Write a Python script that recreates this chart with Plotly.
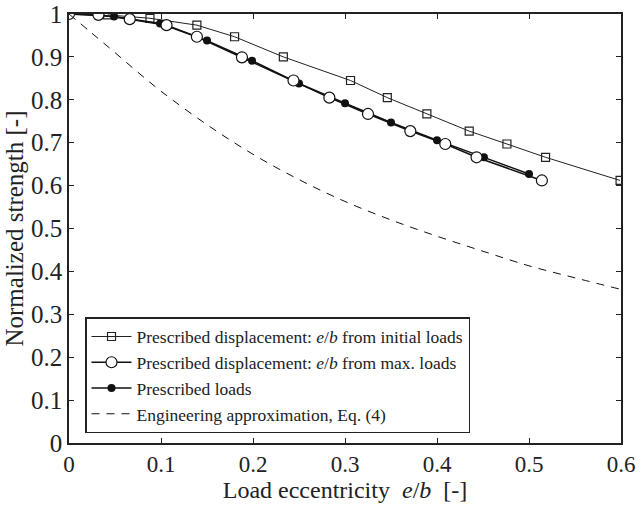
import plotly.graph_objects as go

# Prescribed displacement: e/b from initial loads (squares)
init_x = [0.042, 0.088, 0.139, 0.180, 0.233, 0.306, 0.346, 0.389, 0.435, 0.476, 0.518, 0.599]
init_y = [0.998, 0.990, 0.974, 0.947, 0.900, 0.845, 0.805, 0.767, 0.727, 0.697, 0.666, 0.612]

# Prescribed displacement: e/b from max. loads (open circles)
max_x = [0.0, 0.032, 0.066, 0.106, 0.139, 0.188, 0.244, 0.283, 0.325, 0.371, 0.409, 0.443, 0.514]
max_y = [1.0, 0.998, 0.988, 0.974, 0.947, 0.899, 0.845, 0.805, 0.767, 0.727, 0.697, 0.666, 0.612]

# Prescribed loads (filled circles)
load_x = [0.0, 0.049, 0.099, 0.150, 0.199, 0.250, 0.300, 0.350, 0.400, 0.451, 0.500]
load_y = [1.0, 0.994, 0.978, 0.938, 0.891, 0.838, 0.792, 0.747, 0.706, 0.666, 0.627]

# Engineering approximation, Eq. (4) (dashed)
eng_x = [0.0, 0.025, 0.05, 0.075, 0.1, 0.15, 0.2, 0.25, 0.3, 0.35, 0.4, 0.45, 0.5, 0.55, 0.6]
eng_y = [1.0, 0.955, 0.910, 0.864, 0.820, 0.742, 0.673, 0.614, 0.563, 0.520, 0.482, 0.447, 0.413, 0.385, 0.358]

x_ticks = [0, 0.1, 0.2, 0.3, 0.4, 0.5, 0.6]
y_ticks = [0, 0.1, 0.2, 0.3, 0.4, 0.5, 0.6, 0.7, 0.8, 0.9, 1.0]

FONT = "Liberation Serif"

fig = go.Figure()
fig.add_trace(go.Scatter(
    x=init_x, y=init_y, mode="lines+markers",
    name="Prescribed displacement: <i>e</i>/<i>b</i> from initial loads",
    line=dict(color="#222", width=1),
    marker=dict(symbol="square-open", size=8, color="#222", line=dict(width=1.2)),
    legendrank=1,
))
fig.add_trace(go.Scatter(
    x=load_x, y=load_y, mode="lines+markers",
    name="Prescribed loads",
    line=dict(color="#111", width=1.5),
    marker=dict(symbol="circle", size=8, color="#111"),
    legendrank=3,
))
fig.add_trace(go.Scatter(
    x=max_x, y=max_y, mode="lines+markers",
    name="Prescribed displacement: <i>e</i>/<i>b</i> from max. loads",
    line=dict(color="#111", width=1.5),
    marker=dict(symbol="circle", size=11, color="white", line=dict(color="#111", width=1.2)),
    legendrank=2,
))
fig.add_trace(go.Scatter(
    x=eng_x, y=eng_y, mode="lines", line_shape="spline",
    name="Engineering approximation, Eq. (4)",
    line=dict(color="#111", width=1, dash="8px,7px"),
    legendrank=4,
))

axis_common = dict(
    showgrid=False, zeroline=False, showline=True, linecolor="#222", linewidth=1.5,
    mirror="ticks", ticks="inside", ticklen=5, tickcolor="#222", tickwidth=1,
    automargin=False,
)

fig.update_layout(
    width=641, height=508,
    margin=dict(l=69, r=20, t=14, b=65),
    paper_bgcolor="white", plot_bgcolor="white",
    font=dict(family=FONT, color="#222"),
    showlegend=True,
    legend=dict(
        x=0.029, y=0.023, xanchor="left", yanchor="bottom",
        bgcolor="white", bordercolor="#222", borderwidth=1.5,
        font=dict(family=FONT, size=17.5, color="#222"),
        tracegroupgap=0, itemwidth=40,
    ),
    xaxis=dict(
        range=[0, 0.6], tickvals=x_ticks, ticktext=[f"{v:g}" for v in x_ticks],
        tickfont=dict(family=FONT, size=23, color="#222"),
        title=dict(text="Load eccentricity  <i>e</i>/<i>b</i>  [-]", font=dict(family=FONT, size=24), standoff=0),
        **axis_common,
    ),
    yaxis=dict(
        range=[0, 1], tickvals=y_ticks, ticktext=[f"{v:g}" for v in y_ticks],
        tickfont=dict(family=FONT, size=25, color="#222"),
        title=dict(text="Normalized strength [-]", font=dict(family=FONT, size=25), standoff=0),
        **axis_common,
    ),
)

fig.write_html(
    "out.html",
    config={"displayModeBar": False},
    post_script="document.body.style.margin='0';document.body.style.overflow='hidden';",
)
